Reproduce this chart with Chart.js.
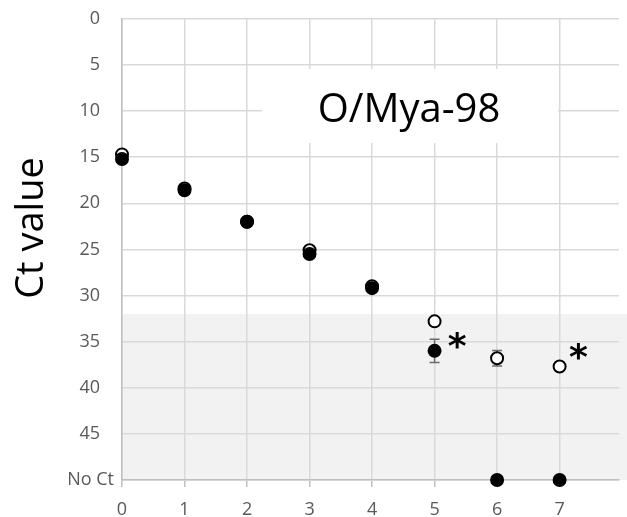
<!DOCTYPE html>
<html>
<head>
<meta charset="utf-8">
<script src="https://cdn.jsdelivr.net/npm/chart.js@4.4.1/dist/chart.umd.min.js"></script>
<style>
  html, body { margin: 0; padding: 0; background: #fff; }
  #wrap { width: 627px; height: 517px; position: relative; }
</style>
</head>
<body>
<div id="wrap"><canvas id="ctChart"></canvas></div>
<script>
// values
const doseX = [0, 1, 2, 3, 4, 5, 6, 7];
const openCt = [14.7, 18.4, 22.0, 25.1, 29.0, 32.8, 36.8, 37.7];
const openErr = [0.2, 0.2, 0.2, 0.2, 0.2, 0.3, 0.85, 0.3];
const filledCt = [15.2, 18.6, 22.0, 25.5, 29.2, 36.0, 50, 50];
const filledErr = [0.2, 0.3, 0.2, 0.3, 0.3, 1.25, 0, 0];
const yTicks = [0, 5, 10, 15, 20, 25, 30, 35, 40, 45, 50];
const yTickLabels = ['0', '5', '10', '15', '20', '25', '30', '35', '40', '45', 'No Ct'];
const xTicks = [0, 1, 2, 3, 4, 5, 6, 7];
const starX = [5.36, 7.3];
const starY = [35.0, 36.2];
const shadeFrom = 32;
const chartTitle = 'O/Mya-98';
const yTitle = 'Ct value';

const toPoints = (ys) => doseX.map((x, i) => ({ x: x, y: ys[i] }));

const extras = {
  id: 'extras',
  beforeDraw(chart) {
    const { ctx, chartArea, scales: { y } } = chart;
    const top = y.getPixelForValue(shadeFrom);
    const bottom = y.getPixelForValue(50);
    ctx.save();
    ctx.fillStyle = '#f2f2f2';
    ctx.fillRect(chartArea.left, top, chart.width - chartArea.left, bottom - top);
    ctx.restore();
  },
  beforeDatasetsDraw(chart) {
    const { ctx, scales: { x, y } } = chart;
    ctx.save();
    // white box behind the title
    ctx.fillStyle = '#fff';
    ctx.fillRect(262, 69, 296, 74);
    ctx.fillStyle = '#000';
    ctx.font = '40px "Open Sans"';
    ctx.textAlign = 'center';
    ctx.textBaseline = 'alphabetic';
    ctx.fillText(chartTitle, 409, 122);

    // error bars
    ctx.strokeStyle = '#6b6b6b';
    ctx.lineWidth = 1.5;
    [[openCt, openErr], [filledCt, filledErr]].forEach(([vals, errs]) => {
      vals.forEach((v, i) => {
        if (!errs[i]) return;
        const px = x.getPixelForValue(doseX[i]);
        const t = y.getPixelForValue(v - errs[i]);
        const b = y.getPixelForValue(v + errs[i]);
        ctx.beginPath();
        ctx.moveTo(px, t); ctx.lineTo(px, b);
        ctx.moveTo(px - 5, t); ctx.lineTo(px + 5, t);
        ctx.moveTo(px - 5, b); ctx.lineTo(px + 5, b);
        ctx.stroke();
      });
    });
    ctx.restore();
  },
  afterDraw(chart) {
    const { ctx, scales: { x, y } } = chart;
    ctx.save();
    // asterisks
    ctx.fillStyle = '#000';
    ctx.font = 'bold 36px "DejaVu Sans"';
    ctx.textAlign = 'center';
    ctx.textBaseline = 'middle';
    starX.forEach((sx, i) => {
      ctx.fillText('*', x.getPixelForValue(sx), y.getPixelForValue(starY[i]) + 7);
    });
    // y axis title
    ctx.translate(43, 228);
    ctx.rotate(-Math.PI / 2);
    ctx.font = '38px "Open Sans"';
    ctx.textBaseline = 'alphabetic';
    ctx.fillText(yTitle, 0, 0);
    ctx.restore();
  }
};

new Chart(document.getElementById('ctChart'), {
  type: 'scatter',
  data: {
    datasets: [
      {
        label: 'filled',
        data: toPoints(filledCt),
        pointRadius: 6,
        pointBorderWidth: 2,
        pointBackgroundColor: '#000',
        pointBorderColor: '#000',
        showLine: false,
        clip: false
      },
      {
        label: 'open',
        data: toPoints(openCt),
        pointRadius: 6,
        pointBorderWidth: 2,
        pointBackgroundColor: '#fff',
        pointBorderColor: '#000',
        showLine: false,
        clip: false
      }
    ]
  },
  options: {
    responsive: true,
    maintainAspectRatio: false,
    animation: false,
    layout: { padding: { top: 17, right: 0, left: 0, bottom: 0 } },
    plugins: {
      legend: { display: false },
      tooltip: { enabled: false }
    },
    scales: {
      x: {
        type: 'linear',
        min: 0,
        max: 7.95,
        afterBuildTicks: (s) => { s.ticks = xTicks.map(v => ({ value: v })); },
        afterFit: (s) => { s.height = 37; },
        grid: { color: '#d9d9d9', lineWidth: 1.5, drawTicks: true, tickLength: 7, tickColor: '#bfbfbf' },
        border: { color: '#bfbfbf', width: 1.5 },
        ticks: {
          padding: 12,
          color: '#595959',
          font: { family: 'Open Sans', size: 18 },
          callback: (v) => String(v)
        }
      },
      y: {
        type: 'linear',
        reverse: true,
        min: 0,
        max: 50,
        afterBuildTicks: (s) => { s.ticks = yTicks.map(v => ({ value: v })); },
        afterFit: (s) => { s.width = 122; },
        grid: { color: '#d9d9d9', lineWidth: 1.5, drawTicks: false },
        border: { color: '#bfbfbf', width: 1.5 },
        ticks: {
          padding: 8,
          color: '#595959',
          font: { family: 'Open Sans', size: 18 },
          callback: (v, i) => i === yTickLabels.length - 1 ? yTickLabels[i] : yTickLabels[i] + '   '
        }
      }
    }
  },
  plugins: [extras]
});
</script>
</body>
</html>
